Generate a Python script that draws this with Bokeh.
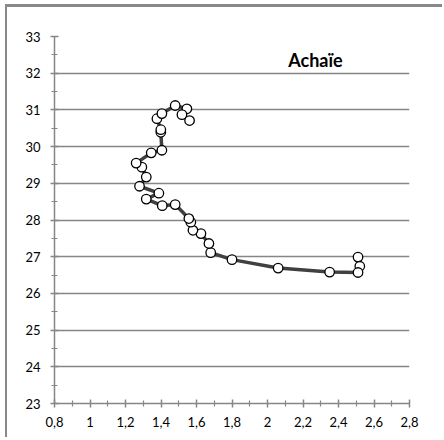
from bokeh.plotting import figure
from bokeh.models import Range1d, Label, FixedTicker, CustomJSTickFormatter
from bokeh.embed import file_html
from bokeh.resources import INLINE

# Data
x_vals = [2.51, 2.52, 2.51, 2.35, 2.06, 1.80, 1.68, 1.67, 1.625, 1.58, 1.568, 1.557, 1.48, 1.407,
          1.317, 1.388, 1.279, 1.317, 1.292, 1.26, 1.345, 1.405, 1.399, 1.399, 1.377, 1.405,
          1.48, 1.546, 1.518, 1.561]
y_vals = [26.99, 26.74, 26.57, 26.58, 26.69, 26.92, 27.11, 27.36, 27.63, 27.72, 27.94, 28.04,
          28.42, 28.39, 28.57, 28.73, 28.92, 29.17, 29.44, 29.55, 29.83, 29.90, 30.39, 30.46,
          30.76, 30.90, 31.12, 31.03, 30.87, 30.71]
x_ticks = [0.8, 1.0, 1.2, 1.4, 1.6, 1.8, 2.0, 2.2, 2.4, 2.6, 2.8]
x_minor = [0.9, 1.1, 1.3, 1.5, 1.7, 1.9, 2.1, 2.3, 2.5, 2.7]
y_ticks = [23, 24, 25, 26, 27, 28, 29, 30, 31, 32, 33]
y_minor = [23.5, 24.5, 25.5, 26.5, 27.5, 28.5, 29.5, 30.5, 31.5, 32.5]
title_text = "Achaïe"

AX = "#868686"

p = figure(width=437, height=433, output_backend="svg", toolbar_location=None,
           x_range=Range1d(0.8, 2.8), y_range=Range1d(23, 33),
           min_border_left=47, min_border_right=35, min_border_top=29, min_border_bottom=37)
p.styles = {"margin": "4px 0px 0px 5px",
            "border-top": "3px solid #898989",
            "border-left": "2px solid #898989"}
p.outline_line_color = None
p.background_fill_color = "white"
p.border_fill_color = "white"

p.xgrid.visible = False
p.ygrid.grid_line_color = AX
p.ygrid.grid_line_width = 1.5

p.xaxis.ticker = FixedTicker(ticks=x_ticks, minor_ticks=x_minor)
p.yaxis.ticker = FixedTicker(ticks=y_ticks, minor_ticks=y_minor)
p.xaxis.formatter = CustomJSTickFormatter(code="""
var s = (Math.round(tick*10)/10).toString();
return s.replace('.', ',');
""")

for ax in (p.xaxis[0], p.yaxis[0]):
    ax.axis_line_color = AX
    ax.axis_line_width = 1.5
    ax.major_tick_line_color = AX
    ax.minor_tick_line_color = AX
    ax.major_tick_line_width = 1.5
    ax.minor_tick_line_width = 1.2
    ax.major_tick_in = 4
    ax.major_tick_out = 4
    ax.minor_tick_in = 3
    ax.minor_tick_out = 3
    ax.major_label_text_font = "Lato"
    ax.major_label_text_font_size = "13px"
    ax.major_label_text_color = "black"
p.xaxis.major_label_standoff = 9
p.yaxis.major_label_standoff = 10

p.line(x_vals, y_vals, line_color="#404040", line_width=3.5)
p.scatter(x_vals, y_vals, marker="circle", size=9.5, fill_color="white",
          line_color="black", line_width=1.3)

p.add_layout(Label(x=2.27, y=32.37, text=title_text, text_font="Lato",
                   text_font_style="bold", text_font_size="18px",
                   text_align="center", text_baseline="middle", text_color="black"))

open("out.html", "w").write(file_html(p, INLINE))
